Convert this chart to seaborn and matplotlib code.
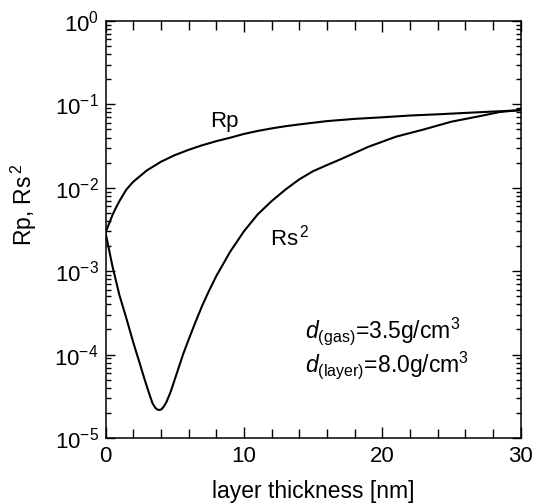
import matplotlib
matplotlib.use("Agg")
import matplotlib.pyplot as plt
import matplotlib.ticker as mticker
import numpy as np
import pandas as pd
import seaborn as sns

# values (layer thickness in nm)
rp_thickness = [0, 0.25, 0.5, 0.75, 1, 1.5, 2, 3, 4, 5, 6, 7, 8, 9, 10, 11, 12,
                13, 14, 16, 18, 20, 22, 24, 26, 28, 30]
rp_values = [2.9e-3, 3.7e-3, 4.7e-3, 5.75e-3, 6.9e-3, 9.5e-3, 1.18e-2, 1.62e-2,
             2.05e-2, 2.46e-2, 2.85e-2, 3.24e-2, 3.62e-2, 3.98e-2, 4.42e-2, 4.8e-2,
             5.15e-2, 5.47e-2, 5.75e-2, 6.3e-2, 6.7e-2, 7.0e-2, 7.35e-2, 7.6e-2,
             7.9e-2, 8.2e-2, 8.5e-2]

rs_thickness = [0, 0.5, 1, 1.5, 2, 2.5, 2.8, 3.0, 3.2, 3.4, 3.6, 3.75, 3.9, 4.05,
                4.2, 4.4, 4.7, 5.0, 5.2, 5.6, 6, 6.5, 7, 7.5, 8, 9, 10, 11, 12, 13,
                14, 15, 16, 17, 19, 21, 23, 25, 27, 28.5, 30]
rs2_values = [2.9e-3, 1.15e-3, 5.2e-4, 2.75e-4, 1.41e-4, 7.6e-5, 5.2e-5, 4.1e-5,
              3.24e-5, 2.6e-5, 2.3e-5, 2.19e-5, 2.17e-5, 2.21e-5, 2.37e-5, 2.69e-5,
              3.55e-5, 5.0e-5, 6.3e-5, 1.0e-4, 1.5e-4, 2.45e-4, 3.9e-4, 5.9e-4,
              8.7e-4, 1.7e-3, 3.0e-3, 4.8e-3, 6.9e-3, 9.5e-3, 1.26e-2, 1.58e-2,
              1.87e-2, 2.2e-2, 3.1e-2, 4.1e-2, 5.0e-2, 6.2e-2, 7.2e-2, 8.1e-2, 8.57e-2]

x_ticks = [0, 10, 20, 30]

sns.set_style("ticks")
plt.rcParams["font.family"] = ["Liberation Sans", "DejaVu Sans"]
plt.rcParams["mathtext.fontset"] = "custom"
plt.rcParams["mathtext.rm"] = "Liberation Sans"
plt.rcParams["mathtext.it"] = "Liberation Sans:italic"
plt.rcParams["mathtext.bf"] = "Liberation Sans:bold"
for key in ["text.color", "axes.labelcolor", "xtick.color", "ytick.color",
            "axes.edgecolor"]:
    plt.rcParams[key] = "black"

rp_df = pd.DataFrame({"thickness": rp_thickness, "R": rp_values})
rs_df = pd.DataFrame({"thickness": rs_thickness, "R": rs2_values})

fig = plt.figure(figsize=(5.37, 5.03), dpi=100)
ax = fig.add_axes([0.1965, 0.1292, 0.7728, 0.8291])

sns.lineplot(data=rp_df, x="thickness", y="R", ax=ax, color="black",
             linewidth=1.5, estimator=None, sort=True)
sns.lineplot(data=rs_df, x="thickness", y="R", ax=ax, color="black",
             linewidth=1.5, estimator=None, sort=True)

ax.set_yscale("log")
ax.set_xlim(0, 30)
ax.set_ylim(1e-5, 1)
ax.set_xticks(x_ticks)
ax.xaxis.set_minor_locator(mticker.MultipleLocator(2))
ax.yaxis.set_major_locator(mticker.LogLocator(base=10, numticks=10))
ax.yaxis.set_minor_locator(mticker.LogLocator(base=10, subs=np.arange(2, 10), numticks=20))
ax.yaxis.set_minor_formatter(mticker.NullFormatter())

ax.tick_params(axis="both", which="both", direction="in", top=True, right=True,
               color="black", labelcolor="black", width=1.0)
ax.tick_params(axis="x", which="major", length=8, labelsize=16, pad=6)
ax.tick_params(axis="x", which="minor", length=6.5)
ax.tick_params(axis="y", which="major", length=6.5, labelsize=16, pad=5)
ax.tick_params(axis="y", which="minor", length=3.8)
for s in ax.spines.values():
    s.set_linewidth(1.1)
    s.set_color("black")

ax.set_xlabel("layer thickness [nm]", fontsize=16.5, labelpad=9)
ax.set_ylabel(r"Rp, Rs$^{\,2}$", fontsize=16.5)
ax.yaxis.set_label_coords(-0.16, 0.56)

ax.text(7.55, 0.054, "Rp", fontsize=16, ha="left", va="baseline")
ax.text(11.9, 2.06e-3, r"Rs$^{\,2}$", fontsize=16, ha="left", va="baseline")
ax.text(14.43, 1.57e-4, r"$\mathit{d}$$_{\mathrm{(gas)}}$=3.5g/cm$^3$",
        fontsize=16.5, ha="left", va="baseline")
ax.text(14.43, 6.24e-5, r"$\mathit{d}$$_{\mathrm{(layer)}}$=8.0g/cm$^3$",
        fontsize=16.5, ha="left", va="baseline")

fig.savefig("out.png", dpi=100)
